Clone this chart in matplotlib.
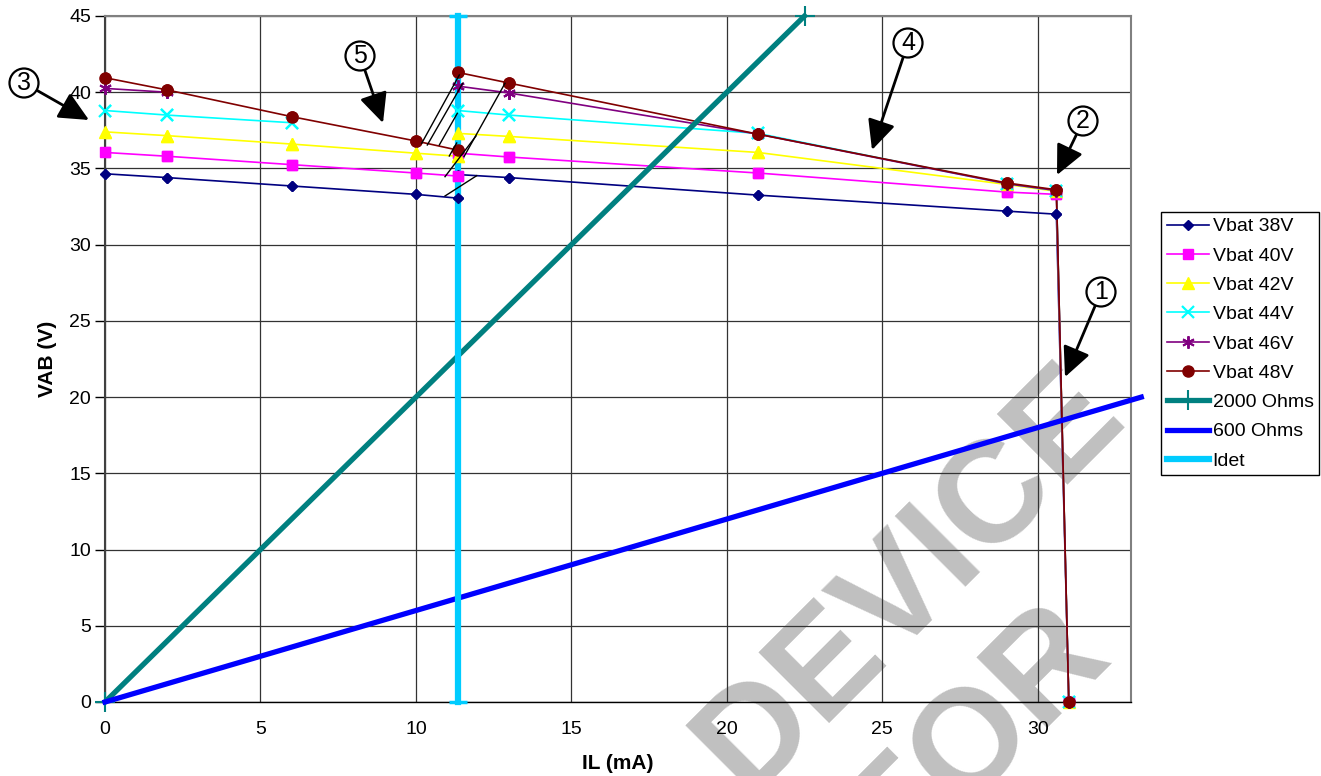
import numpy as np
import matplotlib
matplotlib.use('Agg')
import matplotlib.pyplot as plt

# ---------------- data ----------------
IL = [0, 2, 6, 10, 11.35, 11.35, 13, 21, 29, 30.6, 31]
nan = np.nan
vbat38 = [34.65, 34.4, 33.85, 33.3, 33.05, 34.6, 34.4, 33.25, 32.2, 32.0, 0]
vbat40 = [36.05, 35.8, 35.25, 34.7, 34.5, 36.0, 35.75, 34.7, 33.45, 33.3, 0]
vbat42 = [37.4, 37.15, 36.6, 36.0, 35.8, 37.3, 37.1, 36.05, 33.95, 33.5, 0]
vbat44 = [38.8, 38.5, 38.0, nan, nan, 38.8, 38.5, 37.3, 34.0, 33.55, 0]
vbat46 = [40.25, 40.0, nan, nan, nan, 40.4, 39.95, 37.25, 34.0, 33.55, 0]
vbat48 = [40.95, 40.15, 38.4, 36.8, 36.2, 41.3, 40.6, 37.25, 34.05, 33.6, 0]

r2000_il = [0, 22.5]
r2000_v = [0, 45]
r600_il = [0, 33.33]
r600_v = [0, 20]
idet_il = [11.35, 11.35]
idet_v = [0, 45]

x_ticks = [0, 5, 10, 15, 20, 25, 30]
y_ticks = [0, 5, 10, 15, 20, 25, 30, 35, 40, 45]

series = [
    ("Vbat 38V", vbat38, "#000080", "D", 5.5, 1.0),
    ("Vbat 40V", vbat40, "#FF00FF", "s", 7.5, 1.0),
    ("Vbat 42V", vbat42, "#FFFF00", "^", 8.5, 1.0),
    ("Vbat 44V", vbat44, "#00FFFF", "x", 8.5, 1.6),
    ("Vbat 46V", vbat46, "#800080", (6, 2, 0), 9, 1.4),
    ("Vbat 48V", vbat48, "#800000", "o", 8, 1.0),
]

# annotations: label, circle centre (px), arrow tip (px)
annots = [
    ("1", (1101, 292), (1065, 377)),
    ("2", (1083, 121), (1057, 175)),
    ("3", (24, 83), (89, 120)),
    ("4", (908, 43), (872, 150)),
    ("5", (360, 56), (383, 123)),
]
# hysteresis hatch lines (px)
hatch = [
    ((421.7, 143.3), (459.3, 75)),
    ((427.3, 145), (462.7, 83.3)),
    ((439.3, 145), (457.3, 113.3)),
    ((449.3, 156), (456.7, 143)),
    ((445, 176.7), (476, 136)),
    ((445, 196), (476.7, 175.7)),
    ((464, 156.7), (505, 83.3)),
]

W, H = 1321, 776
plt.rcParams['font.family'] = ['Liberation Sans', 'DejaVu Sans']

fig = plt.figure(figsize=(W / 100, H / 100), dpi=100)
fig.patch.set_facecolor('white')


def ff(px, py):
    return (px / W, 1 - py / H)


# watermark (cut off by the figure edge, as in the reference)
fig.text(*ff(910, 580), "DEVICE", rotation=45, fontsize=104, fontweight='bold',
         color='#c0c0c0', ha='center', va='center', zorder=-1)
fig.text(*ff(978, 735), "FOR", rotation=45, fontsize=104, fontweight='bold',
         color='#c0c0c0', ha='center', va='center', zorder=-1)

ax = fig.add_axes([105 / W, 1 - 702 / H, (1131 - 105) / W, (702 - 16) / H])
ax.set_facecolor('none')

handles = []
for name, vals, col, mk, ms, mew in series:
    ln, = ax.plot(IL, vals, color=col, lw=1.2, marker=mk, ms=ms, mfc=col, mec=col,
                  mew=mew, label=name, zorder=2)
    handles.append(ln)

h2000, = ax.plot(r2000_il, r2000_v, color='#008080', lw=3.8, marker='+', ms=15,
                 mew=1.5, label='2000 Ohms', zorder=3, clip_on=False)
h600, = ax.plot(r600_il, r600_v, color='#0000FF', lw=3.8, label='600 Ohms',
                zorder=3, clip_on=False)
hidet, = ax.plot(idet_il, idet_v, color='#00CCFF', lw=4.5, marker='_', ms=13,
                 mew=2.5, label='Idet', zorder=4, clip_on=False)
handles += [h2000, h600, hidet]

# markers above Idet line
for name, vals, col, mk, ms, mew in series:
    ax.plot(IL, vals, ls='none', marker=mk, ms=ms, mfc=col, mec=col, mew=mew,
            zorder=5, clip_on=False)

ax.set_xlim(0, 33)
ax.set_ylim(0, 45)
ax.set_xticks(x_ticks)
ax.set_yticks(y_ticks)
ax.tick_params(axis='y', length=7, width=1, direction='out', labelsize=14, pad=3)
ax.tick_params(axis='x', length=0, labelsize=14, pad=14)
ax.grid(True, color='#333333', lw=0.9)
ax.set_axisbelow(True)
for s in ['top', 'right']:
    ax.spines[s].set_color('#808080')
    ax.spines[s].set_linewidth(1.5)
ax.spines['left'].set_color('#404040')
ax.spines['left'].set_linewidth(1.5)
ax.spines['bottom'].set_color('black')
ax.spines['bottom'].set_linewidth(1.0)

ax.set_xlabel('IL (mA)', fontsize=15, fontweight='bold', labelpad=11)
ax.set_ylabel('VAB (V)', fontsize=15, fontweight='bold', labelpad=9)

# hatch lines in data coords
for (p1, p2) in hatch:
    xs = [(p1[0] - 105) / 31.09, (p2[0] - 105) / 31.09]
    ys = [(702 - p1[1]) / 15.244, (702 - p2[1]) / 15.244]
    ax.plot(xs, ys, color='black', lw=1.0, zorder=6)

for lab, c, t in annots:
    ax.annotate(lab, xy=ff(*t), xycoords='figure fraction', xytext=ff(*c),
                textcoords='figure fraction', ha='center', va='center', fontsize=18,
                bbox=dict(boxstyle='circle,pad=0.1', fc='white', ec='black', lw=1.6),
                arrowprops=dict(arrowstyle='-|>,head_length=0.7,head_width=0.33',
                                mutation_scale=26, color='black', lw=2.0,
                                shrinkA=0, shrinkB=0),
                annotation_clip=False, zorder=10)

leg = ax.legend(handles=handles, loc='upper left', bbox_to_anchor=ff(1161, 212),
                bbox_transform=fig.transFigure, fontsize=14, frameon=True,
                fancybox=False, edgecolor='black', framealpha=1, borderpad=0.3,
                labelspacing=0.6, handlelength=2.15, handletextpad=0.2,
                borderaxespad=0, numpoints=1)
leg.get_frame().set_linewidth(1.0)

fig.savefig('out.png', dpi=100, facecolor='white')
